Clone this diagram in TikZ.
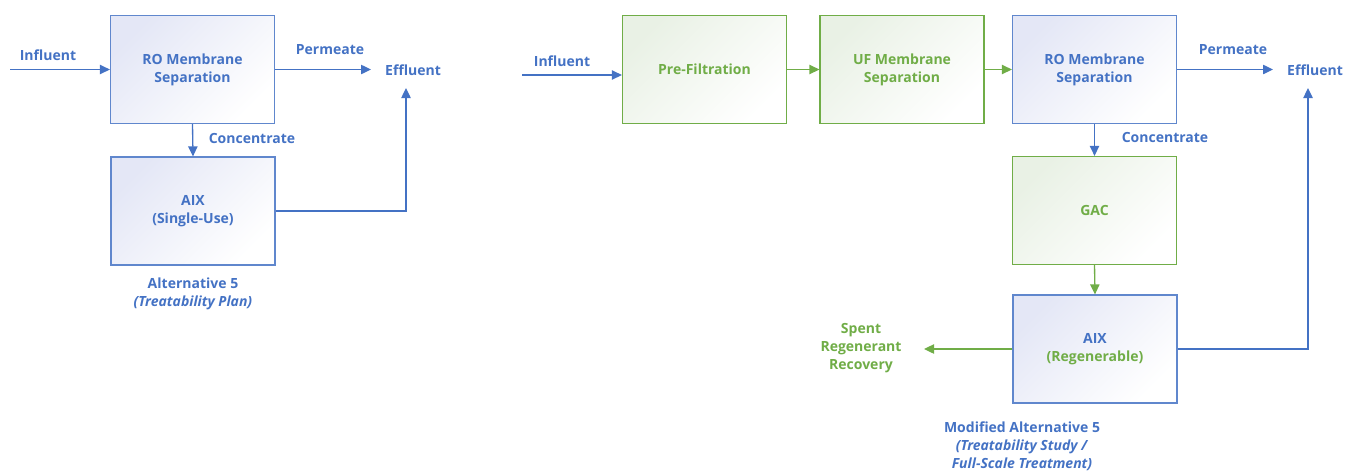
\documentclass[tikz,border=0pt]{standalone}
\usepackage{fontspec}
\setmainfont{Open Sans}
\usepackage{xcolor}
\usepackage{tikz}
\usetikzlibrary{arrows.meta, positioning}
\definecolor{flowblue}{HTML}{4472C4}
\definecolor{flowgreen}{HTML}{70AD47}
\definecolor{shadeblue}{HTML}{E4E7F6}
\definecolor{shadegreen}{HTML}{E9F1E5}

\begin{document}
\begin{tikzpicture}[
    x=0.75pt, y=-0.75pt,
    font=\fontsize{10.5}{13.5}\selectfont\bfseries,
    unit/.style={rectangle, draw=#1, line width=0.9pt, minimum width=123pt, minimum height=81pt, align=center},
    bluebox/.style={unit=flowblue!85, text=flowblue, top color=shadeblue, bottom color=white, shading angle=45},
    greenbox/.style={unit=flowgreen, text=flowgreen, top color=shadegreen, bottom color=white, shading angle=45},
    tag/.style={text=#1, align=center, inner sep=1pt},
    bluearrow/.style={draw=flowblue, line width=1pt, -{Triangle[length=7.5pt, width=7pt]}},
    greenarrow/.style={draw=flowgreen, line width=1pt, -{Triangle[length=7.5pt, width=7pt]}}
]
\useasboundingbox (0,0) rectangle (1348,472);
% Alternative 5
\node[bluebox] (roA) at (192.5,69.5) {RO Membrane\\Separation};
\node[bluebox] (aixA) at (193,211) {AIX\\(Single-Use)};
\node[tag=flowblue] (infA) at (48,55) {Influent};
\node[tag=flowblue] (permA) at (330,50) {Permeate};
\node[tag=flowblue] (effA) at (413,70) {Effluent};
\node[tag=flowblue] (concA) at (252,138) {Concentrate};
\node[tag=flowblue] (capA) at (193,294) {Alternative 5\\\textit{(Treatability Plan)}};
\coordinate (inA) at (10,69.5);
\coordinate (outA) at (371,69.5);
\coordinate (upA) at (406,88);
\draw[bluearrow] (inA) -- (roA.west);
\draw[bluearrow] (roA.east) -- (outA);
\draw[bluearrow] (roA.south) -- (aixA.north);
\draw[bluearrow] (aixA.east) -| (upA);
% Modified Alternative 5
\node[greenbox] (pre) at (704.5,69.5) {Pre-Filtration};
\node[greenbox] (uf) at (902,69.5) {UF Membrane\\Separation};
\node[bluebox] (roB) at (1094.5,69.5) {RO Membrane\\Separation};
\node[greenbox] (gac) at (1094.5,210.5) {GAC};
\node[bluebox] (aixB) at (1095,349) {AIX\\\textcolor{flowgreen}{(Regenerable)}};
\node[tag=flowblue] (infB) at (562,61) {Influent};
\node[tag=flowblue] (permB) at (1233,50) {Permeate};
\node[tag=flowblue] (effB) at (1315,70) {Effluent};
\node[tag=flowblue] (concB) at (1165,137) {Concentrate};
\node[tag=flowgreen] (spent) at (861,348) {Spent\\Regenerant\\Recovery};
\node[tag=flowblue] (capB) at (1022,446) {Modified Alternative 5\\\textit{(Treatability Study /}\\\textit{Full-Scale Treatment)}};
\coordinate (inB) at (522,75);
\coordinate (outB) at (1273,69.5);
\coordinate (upB) at (1308,88);
\coordinate (wasteB) at (924,349);
\draw[bluearrow] (inB) -- (pre.west |- inB);
\draw[greenarrow] (pre) -- (uf);
\draw[greenarrow] (uf) -- (roB);
\draw[bluearrow] (roB.east) -- (outB);
\draw[bluearrow] (roB.south) -- (gac.north);
\draw[greenarrow] (gac.south) -- (aixB.north);
\draw[bluearrow] (aixB.east) -| (upB);
\draw[greenarrow] (aixB.west) -- (wasteB);
\end{tikzpicture}
\end{document}
